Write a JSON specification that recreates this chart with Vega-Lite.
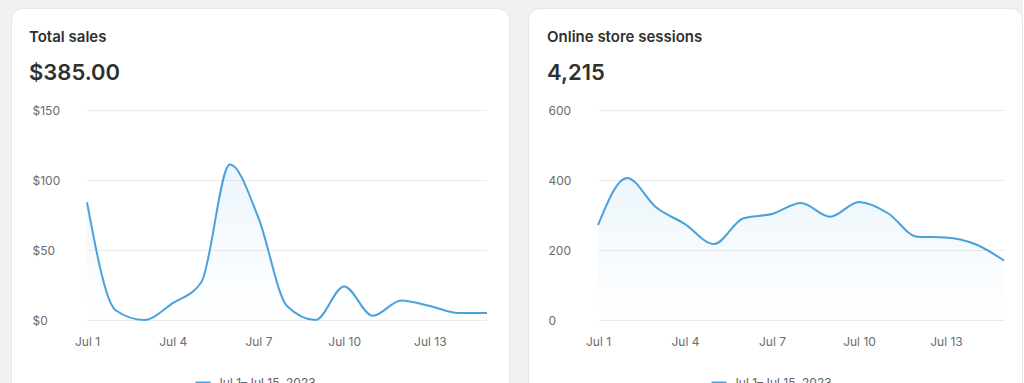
{
  "$schema": "https://vega.github.io/schema/vega-lite/v6.json",
  "background": "#f1f1f1",
  "padding": {"left": 10, "top": 7, "right": 0, "bottom": 0},
  "spacing": 17,
  "config": {
    "font": "Inter",
    "view": {"fill": "white", "stroke": "#e6e6e6", "cornerRadius": 12},
    "title": {
      "anchor": "start", "frame": "group", "offset": -76, "dx": 18,
      "font": "Inter", "fontSize": 15, "fontWeight": 600, "color": "#303030",
      "subtitleFont": "Inter", "subtitleFontSize": 22, "subtitleFontWeight": 600,
      "subtitleColor": "#303030", "subtitlePadding": 18
    },
    "axis": {
      "domain": false, "ticks": false, "tickSize": 0, "labelFlush": false,
      "labelFont": "Inter", "labelFontSize": 12, "labelColor": "#6b6b6b",
      "gridColor": "#ececec", "gridWidth": 1, "title": null
    },
    "legend": {
      "labelFont": "Inter", "labelFontSize": 12, "labelColor": "#616161",
      "symbolType": "stroke", "symbolStrokeWidth": 3, "symbolSize": 225
    }
  },
  "resolve": {"scale": {"color": "independent"}},
  "hconcat": [
    {
      "width": 498, "height": 390,
      "title": {"text": "Total sales", "subtitle": "$385.00"},
      "data": {"values": [
        {"date": "2023-07-01T00:00", "value": 84},
        {"date": "2023-07-02T00:00", "value": 7},
        {"date": "2023-07-03T00:00", "value": 0},
        {"date": "2023-07-04T00:00", "value": 12},
        {"date": "2023-07-05T00:00", "value": 27},
        {"date": "2023-07-06T00:00", "value": 111},
        {"date": "2023-07-07T00:00", "value": 73},
        {"date": "2023-07-08T00:00", "value": 10},
        {"date": "2023-07-09T00:00", "value": 0},
        {"date": "2023-07-10T00:00", "value": 24},
        {"date": "2023-07-11T00:00", "value": 3},
        {"date": "2023-07-12T00:00", "value": 14},
        {"date": "2023-07-13T00:00", "value": 10},
        {"date": "2023-07-14T00:00", "value": 5},
        {"date": "2023-07-15T00:00", "value": 5}
      ]},
      "encoding": {
        "x": {"field": "date", "type": "temporal",
              "scale": {"range": [76, 476], "nice": false},
              "axis": {"orient": "bottom", "offset": -62, "labelPadding": 0, "labelBaseline": "top", "labelAlign": "center", "grid": false,
                       "format": "%b %-d",
                       "values": [{"year": 2023, "month": 7, "date": 1}, {"year": 2023, "month": 7, "date": 4}, {"year": 2023, "month": 7, "date": 7}, {"year": 2023, "month": 7, "date": 10}, {"year": 2023, "month": 7, "date": 13}]}},
        "y": {"field": "value", "type": "quantitative",
              "scale": {"domain": [0, 150], "range": [312, 102], "nice": false},
              "axis": {"values": [0, 50, 100, 150], "format": "$,.0f", "grid": true, "labelAlign": "left", "labelPadding": -21, "labelBaseline": "middle"}}
      },
      "layer": [
        {"mark": {"type": "area", "interpolate": "monotone",
                  "fill": {"gradient": "linear", "x1": 0, "y1": 0, "x2": 0, "y2": 1,
                           "stops": [{"offset": 0, "color": "rgba(74,161,220,0.10)"}, {"offset": 1, "color": "rgba(74,161,220,0)"}]}}},
        {"mark": {"type": "line", "interpolate": "monotone", "strokeWidth": 2},
         "encoding": {"color": {"datum": "Jul 1–Jul 15, 2023", "scale": {"range": ["#4aa1dc"]},
                                "legend": {"orient": "none", "legendX": 183, "legendY": 366, "title": null}}}}
      ]
    },
    {
      "width": 494, "height": 390,
      "title": {"text": "Online store sessions", "subtitle": "4,215", "dx": 19},
      "data": {"values": [
        {"date": "2023-07-01T00:00", "value": 271},
        {"date": "2023-07-02T00:00", "value": 406},
        {"date": "2023-07-03T00:00", "value": 322},
        {"date": "2023-07-04T00:00", "value": 274},
        {"date": "2023-07-05T00:00", "value": 217},
        {"date": "2023-07-06T00:00", "value": 290},
        {"date": "2023-07-07T00:00", "value": 303},
        {"date": "2023-07-08T00:00", "value": 334},
        {"date": "2023-07-09T00:00", "value": 295},
        {"date": "2023-07-10T00:00", "value": 337},
        {"date": "2023-07-11T00:00", "value": 305},
        {"date": "2023-07-12T00:00", "value": 238},
        {"date": "2023-07-13T00:00", "value": 236},
        {"date": "2023-07-14T00:00", "value": 217},
        {"date": "2023-07-15T00:00", "value": 170}
      ]},
      "encoding": {
        "x": {"field": "date", "type": "temporal",
              "scale": {"range": [70, 476], "nice": false},
              "axis": {"orient": "bottom", "offset": -62, "labelPadding": 0, "labelBaseline": "top", "labelAlign": "center", "grid": false,
                       "format": "%b %-d",
                       "values": [{"year": 2023, "month": 7, "date": 1}, {"year": 2023, "month": 7, "date": 4}, {"year": 2023, "month": 7, "date": 7}, {"year": 2023, "month": 7, "date": 10}, {"year": 2023, "month": 7, "date": 13}]}},
        "y": {"field": "value", "type": "quantitative",
              "scale": {"domain": [0, 600], "range": [312, 102], "nice": false},
              "axis": {"values": [0, 200, 400, 600], "format": ",d", "grid": true, "labelAlign": "left", "labelPadding": -20, "labelBaseline": "middle"}}
      },
      "layer": [
        {"mark": {"type": "area", "interpolate": "monotone",
                  "fill": {"gradient": "linear", "x1": 0, "y1": 0, "x2": 0, "y2": 1,
                           "stops": [{"offset": 0, "color": "rgba(74,161,220,0.10)"}, {"offset": 1, "color": "rgba(74,161,220,0)"}]}}},
        {"mark": {"type": "line", "interpolate": "monotone", "strokeWidth": 2},
         "encoding": {"color": {"datum": "Jul 1–Jul 15, 2023", "scale": {"range": ["#4aa1dc"]},
                                "legend": {"orient": "none", "legendX": 182, "legendY": 366, "title": null}}}}
      ]
    }
  ]
}
